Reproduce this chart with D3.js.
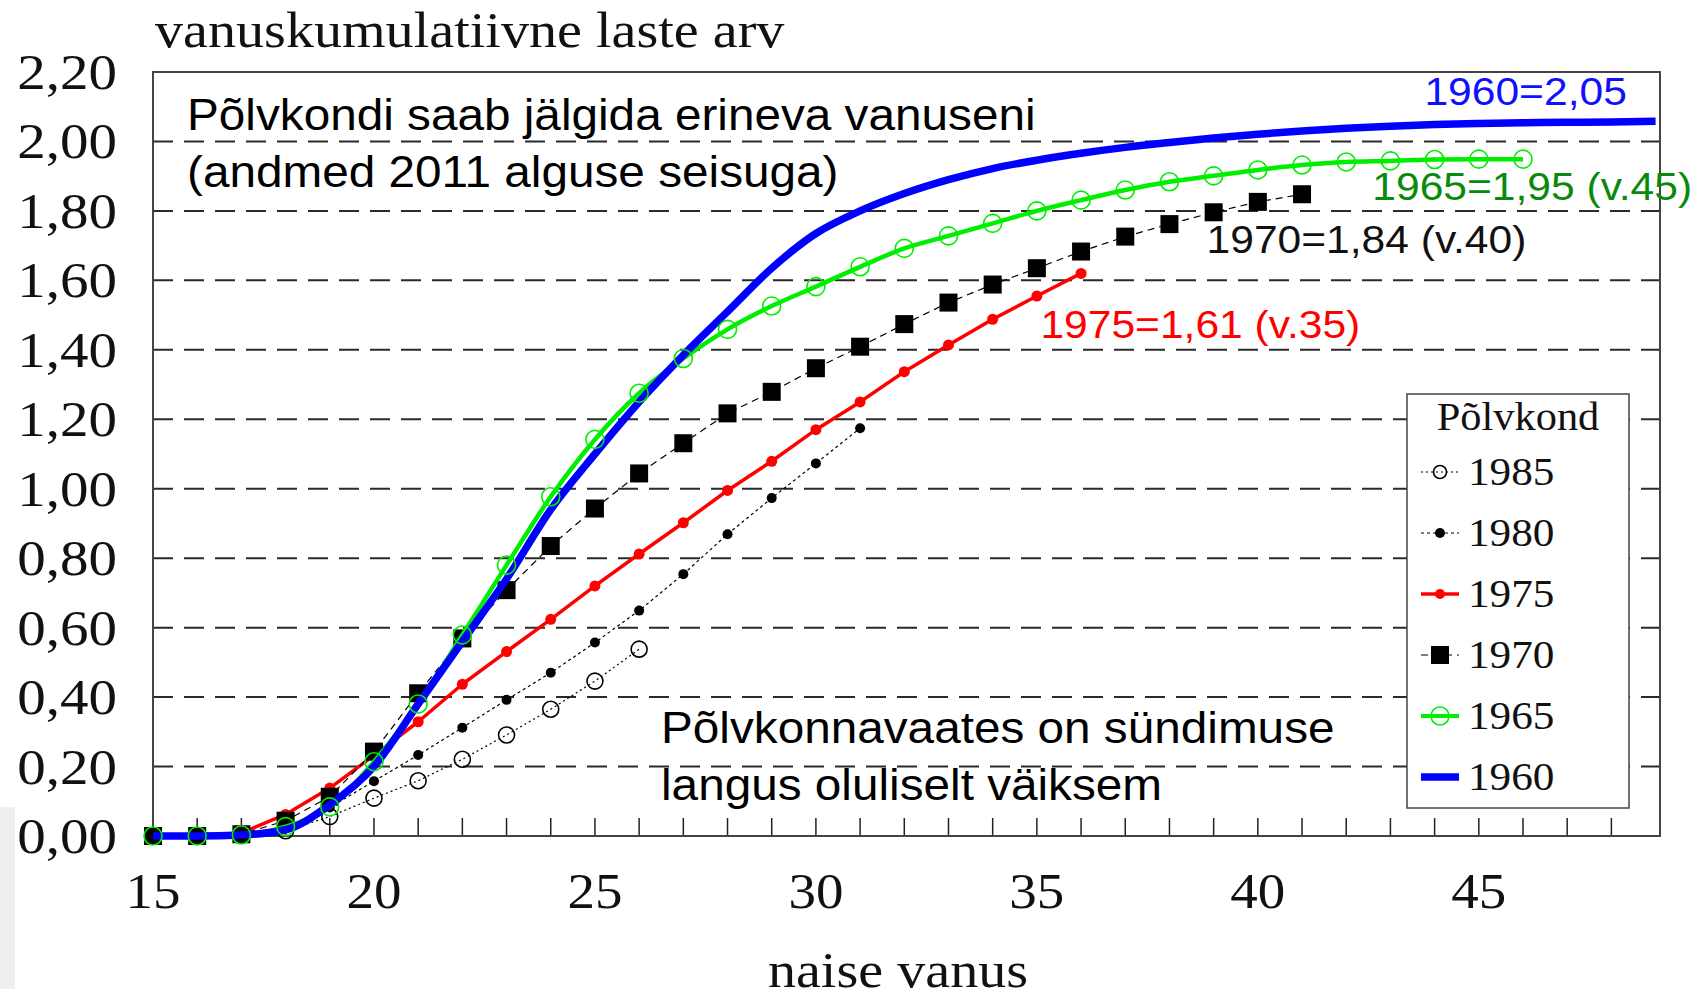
<!DOCTYPE html>
<html lang="et">
<head>
<meta charset="UTF-8">
<title>Vanuskumulatiivne laste arv</title>
<script src="https://cdn.jsdelivr.net/npm/d3@7/dist/d3.min.js"></script>
<style>
    body, html {
        margin: 0;
        padding: 0;
        background: #fff;
        overflow: hidden;
    }
    svg {
        display: block;
    }
    .serif {
        font-family: "Liberation Serif", "Times New Roman", serif;
        fill: #111;
    }
    .sans {
        font-family: "Liberation Sans", Arial, sans-serif;
    }
</style>
</head>
<body>
<svg id="chart"></svg>
<script>
    // ages start at 15 for every cohort
    const startAge = 15;
    const s1985 = [0, 0, 0.002, 0.015, 0.056, 0.109, 0.159, 0.221, 0.291, 0.365, 0.446, 0.538];
    const s1980 = [0, 0, 0.003, 0.022, 0.082, 0.158, 0.233, 0.312, 0.392, 0.47, 0.557, 0.649, 0.754, 0.869, 0.973, 1.073, 1.174];
    const s1975 = [0, 0, 0.009, 0.062, 0.138, 0.232, 0.329, 0.437, 0.531, 0.624, 0.72, 0.812, 0.902, 0.995, 1.079, 1.17, 1.25, 1.337, 1.414, 1.488, 1.555, 1.62];
    const s1970 = [0, 0, 0.005, 0.044, 0.113, 0.243, 0.411, 0.569, 0.708, 0.835, 0.943, 1.044, 1.131, 1.217, 1.279, 1.347, 1.409, 1.474, 1.536, 1.588, 1.635, 1.683, 1.726, 1.762, 1.796, 1.826, 1.848];
    const s1965 = [0, 0, 0.003, 0.027, 0.084, 0.214, 0.38, 0.579, 0.78, 0.977, 1.142, 1.275, 1.375, 1.459, 1.526, 1.582, 1.639, 1.692, 1.728, 1.764, 1.80, 1.831, 1.86, 1.884, 1.901, 1.918, 1.932, 1.941, 1.944, 1.948, 1.949, 1.949];
    const s1960 = [0, 0, 0.003, 0.018, 0.09, 0.2, 0.38, 0.56, 0.74, 0.94, 1.10, 1.25, 1.385, 1.51, 1.635, 1.735, 1.80, 1.85, 1.89, 1.922, 1.946, 1.966, 1.983, 1.997, 2.01, 2.021, 2.03, 2.038, 2.044, 2.049, 2.052, 2.054, 2.055, 2.056, 2.058];

    const yTicks = [0, 0.2, 0.4, 0.6, 0.8, 1.0, 1.2, 1.4, 1.6, 1.8, 2.0, 2.2];
    const xTicks = [15, 20, 25, 30, 35, 40, 45];
    const minorTicks = d3.range(16, 49);

    const endLabels = [
        {text: "1960=2,05", age: 43.77, value: 2.105, color: "#1010ff"},
        {text: "1965=1,95 (v.45)", age: 42.59, value: 1.83, color: "#0a8a0a"},
        {text: "1970=1,84 (v.40)", age: 38.84, value: 1.678, color: "#111"},
        {text: "1975=1,61 (v.35)", age: 35.08, value: 1.433, color: "#ff0000"}
    ];

    // series style table (legend order)
    const series = [
        {name: "1985", values: s1985, color: "#000", width: 1.2, dash: "2,3", marker: "open", r: 8},
        {name: "1980", values: s1980, color: "#000", width: 1.2, dash: "3,3", marker: "dot", r: 5},
        {name: "1975", values: s1975, color: "#ff0000", width: 3.5, dash: null, marker: "dot", r: 5.5},
        {name: "1970", values: s1970, color: "#000", width: 1.2, dash: "7,5", marker: "square", r: 9},
        {name: "1965", values: s1965, color: "#00ee00", width: 4.5, dash: null, marker: "open", r: 9, curve: true},
        {name: "1960", values: s1960, color: "#0000ff", width: 7.5, dash: null, marker: null, curve: true}
    ];

    const W = 1704, H = 997;
    const svg = d3.select("#chart").attr("width", W).attr("height", H);

    const x = d3.scaleLinear().domain([15, 49.1]).range([153, 1660]);
    const y = d3.scaleLinear().domain([0, 2.2]).range([836, 72]);

    // the original picture is a bit wider than the fonts, stretch text a little
    function stretch(sel, k) {
        sel.each(function() {
            const w = this.getComputedTextLength();
            d3.select(this).attr("textLength", w * k).attr("lengthAdjust", "spacingAndGlyphs");
        });
    }

    // faint strip at the left border of the original scan
    svg.append("rect")
        .attr("x", 0).attr("y", 807).attr("width", 15).attr("height", 182)
        .attr("fill", "#efefef");

    // horizontal dashed grid
    svg.append("g")
        .selectAll("line")
        .data(yTicks.filter(d => d > 0 && d < 2.2))
        .enter().append("line")
        .attr("x1", x(15)).attr("x2", x(49.1))
        .attr("y1", d => y(d)).attr("y2", d => y(d))
        .attr("stroke", "#2a2a2a")
        .attr("stroke-width", 2)
        .attr("stroke-dasharray", "20,11");

    // minor ticks, pointing up from the baseline
    svg.append("g")
        .selectAll("line")
        .data(minorTicks)
        .enter().append("line")
        .attr("x1", d => x(d)).attr("x2", d => x(d))
        .attr("y1", y(0)).attr("y2", y(0) - 18)
        .attr("stroke", "#222")
        .attr("stroke-width", 1.5);

    // frame
    svg.append("rect")
        .attr("x", x(15)).attr("y", y(2.2))
        .attr("width", x(49.1) - x(15)).attr("height", y(0) - y(2.2))
        .attr("fill", "none")
        .attr("stroke", "#444")
        .attr("stroke-width", 2);

    // y tick labels
    const fmt = d => d3.format(".2f")(d).replace(".", ",");
    svg.append("g")
        .selectAll("text")
        .data(yTicks)
        .enter().append("text")
        .attr("class", "serif")
        .attr("x", x(15) - 36)
        .attr("y", d => y(d) + 17)
        .attr("text-anchor", "end")
        .style("font-size", "50px")
        .text(fmt)
        .call(stretch, 1.14);

    // x tick labels
    svg.append("g")
        .selectAll("text")
        .data(xTicks)
        .enter().append("text")
        .attr("class", "serif")
        .attr("x", d => x(d))
        .attr("y", y(0) + 72)
        .attr("text-anchor", "middle")
        .style("font-size", "50px")
        .text(d => d)
        .call(stretch, 1.1);

    // axis titles
    svg.append("text")
        .attr("class", "serif")
        .attr("x", 155).attr("y", 47)
        .style("font-size", "51px")
        .text("vanuskumulatiivne laste arv")
        .call(stretch, 1.1);

    svg.append("text")
        .attr("class", "serif")
        .attr("x", 898).attr("y", 987)
        .attr("text-anchor", "middle")
        .style("font-size", "51px")
        .text("naise vanus")
        .call(stretch, 1.1);

    // series
    const lineOf = s => d3.line()
        .x((d, i) => x(startAge + i))
        .y(d => y(d))
        .curve(s.curve ? d3.curveMonotoneX : d3.curveLinear);

    function drawLine(s) {
        svg.append("path")
            .datum(s.values)
            .attr("fill", "none")
            .attr("stroke", s.color)
            .attr("stroke-width", s.width)
            .attr("stroke-dasharray", s.dash)
            .attr("stroke-linejoin", "round")
            .attr("d", lineOf(s));
    }

    function drawMarkers(g, s, pts) {
        if (s.marker === "square") {
            g.selectAll(null).data(pts).enter().append("rect")
                .attr("x", d => d[0] - s.r).attr("y", d => d[1] - s.r)
                .attr("width", s.r * 2).attr("height", s.r * 2)
                .attr("fill", "#000");
        } else if (s.marker === "dot") {
            g.selectAll(null).data(pts).enter().append("circle")
                .attr("cx", d => d[0]).attr("cy", d => d[1]).attr("r", s.r)
                .attr("fill", s.color);
        } else if (s.marker === "open") {
            g.selectAll(null).data(pts).enter().append("circle")
                .attr("cx", d => d[0]).attr("cy", d => d[1]).attr("r", s.r)
                .attr("fill", "none")
                .attr("stroke", s.color)
                .attr("stroke-width", 1.6);
        }
    }

    const byName = n => series.find(s => s.name === n);
    const pointsOf = s => s.values.map((v, i) => [x(startAge + i), y(v)]);

    ["1985", "1980", "1975", "1970"].forEach(n => {
        const s = byName(n);
        drawLine(s);
        drawMarkers(svg.append("g"), s, pointsOf(s));
    });
    drawLine(byName("1965"));
    drawLine(byName("1960"));
    drawMarkers(svg.append("g"), byName("1965"), pointsOf(byName("1965")));

    // end labels
    svg.append("g")
        .selectAll("text")
        .data(endLabels)
        .enter().append("text")
        .attr("class", "sans")
        .attr("x", d => x(d.age))
        .attr("y", d => y(d.value))
        .attr("fill", d => d.color)
        .style("font-size", "38px")
        .text(d => d.text)
        .call(stretch, 1.12);

    // annotations
    const note1 = ["Põlvkondi saab jälgida erineva vanuseni", "(andmed 2011 alguse seisuga)"];
    const note2 = ["Põlvkonnavaates on sündimuse", "langus oluliselt väiksem"];
    [[note1, 187, 130], [note2, 661, 743]].forEach(([lines, lx, ly]) => {
        svg.append("g")
            .selectAll("text")
            .data(lines)
            .enter().append("text")
            .attr("class", "sans")
            .attr("x", lx)
            .attr("y", (d, i) => ly + i * 57)
            .attr("fill", "#000")
            .style("font-size", "45px")
            .text(d => d)
            .call(stretch, 1.06);
    });

    // legend
    const legend = svg.append("g");
    legend.append("rect")
        .attr("x", 1407).attr("y", 394)
        .attr("width", 222).attr("height", 414)
        .attr("fill", "#fff")
        .attr("stroke", "#444")
        .attr("stroke-width", 1.5);
    legend.append("text")
        .attr("class", "serif")
        .attr("x", 1518).attr("y", 430)
        .attr("text-anchor", "middle")
        .style("font-size", "40px")
        .text("Põlvkond")
        .call(stretch, 1.06);

    const item = legend.selectAll("g.item")
        .data(series)
        .enter().append("g")
        .attr("class", "item")
        .attr("transform", (d, i) => `translate(0,${485 + i * 61})`);
    item.append("line")
        .attr("x1", 1421).attr("x2", 1459)
        .attr("y1", -13).attr("y2", -13)
        .attr("stroke", d => d.color)
        .attr("stroke-width", d => d.marker ? Math.min(d.width, 4) : d.width)
        .attr("stroke-dasharray", d => d.dash);
    item.each(function(d) {
        if (!d.marker) return;
        const s = Object.assign({}, d, {r: d.marker === "square" ? 9 : (d.marker === "open" ? (d.name === "1985" ? 6.5 : 9) : 5)});
        drawMarkers(d3.select(this), s, [[1440, -13]]);
    });
    item.append("text")
        .attr("class", "serif")
        .attr("x", 1468).attr("y", 0)
        .style("font-size", "40px")
        .text(d => d.name)
        .call(stretch, 1.08);
</script>
</body>
</html>
